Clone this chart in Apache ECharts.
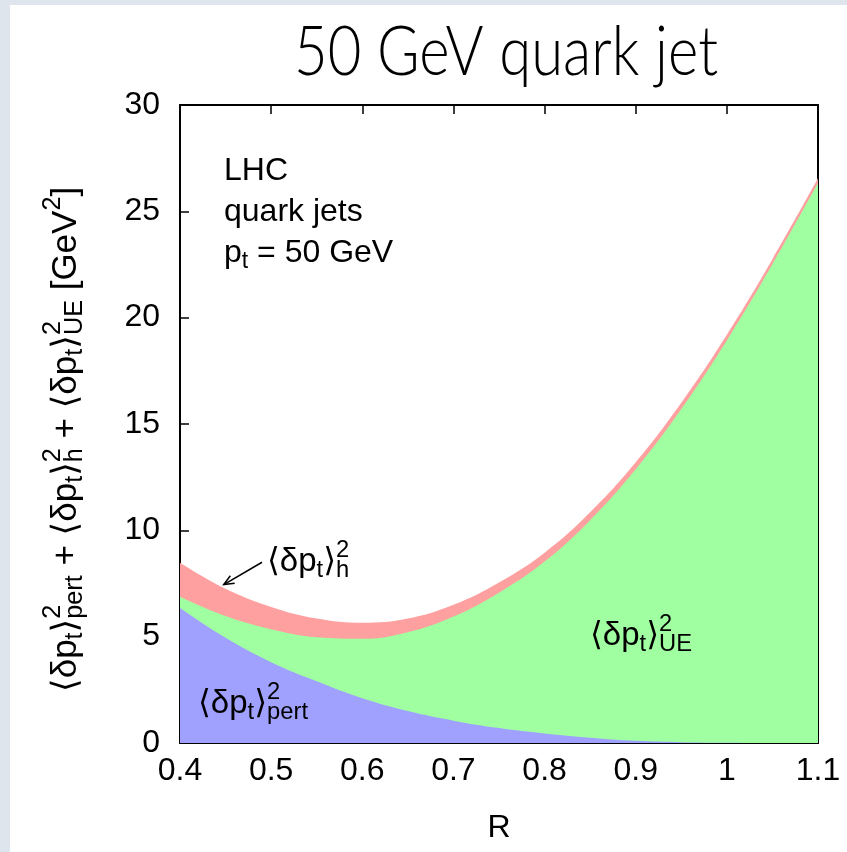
<!DOCTYPE html>
<html>
<head>
<meta charset="utf-8">
<script src="https://cdn.jsdelivr.net/npm/echarts@6/dist/echarts.min.js"></script>
<style>
  html, body { margin: 0; padding: 0; background: #dfe5ec; }
  #chart { width: 847px; height: 852px; }
</style>
</head>
<body>
<div id="chart"></div>
<script>
// jet radius R and the three contributions [GeV^2]
const radii      = [0.4, 0.45, 0.5, 0.55, 0.6, 0.65, 0.7, 0.75, 0.8, 0.85, 0.9, 0.95, 1.0, 1.05, 1.1]
const pertValues = [6.35, 4.95, 3.8, 2.9, 2.1, 1.5, 1.05, 0.7, 0.45, 0.25, 0.1, 0.04, 0.01, 0, 0]
const ueValues   = [0.53, 1.02, 1.55, 2.07, 2.8, 3.71, 4.9, 6.37, 8.08, 10.23, 12.77, 15.66, 18.92, 22.51, 26.33]
const hadrValues = [1.6, 1.28, 1.05, 0.88, 0.75, 0.64, 0.55, 0.48, 0.42, 0.37, 0.33, 0.3, 0.27, 0.24, 0.22]

const FAMILY = '"Liberation Sans", Arial, "DejaVu Sans", sans-serif'
const chart = echarts.init(document.getElementById("chart"))

// cumulative curves, drawn back to front so each area covers the one below
const lower = pertValues
const middle = pertValues.map((v, i) => v + ueValues[i])
const upper = middle.map((v, i) => v + hadrValues[i])

function area(name, vals, color) {
  return {
    name: name,
    type: "line",
    smooth: 0.4,
    symbol: "none",
    silent: true,
    data: radii.map((r, i) => [r, vals[i]]),
    lineStyle: { width: 0, color: color },
    areaStyle: { color: color, opacity: 1 }
  }
}

const axisLine = { show: true, onZero: false, lineStyle: { color: "#000", width: 2 } }
const axisTick = { inside: true, length: 9, lineStyle: { color: "#000", width: 1.5 } }

chart.setOption({
  animation: false,
  grid: { left: 180, right: 29, top: 105, bottom: 109, containLabel: false, outerBoundsMode: "none" },
  xAxis: [
    {
      type: "value", min: 0.4, max: 1.1, interval: 0.1,
      axisLine, axisTick, splitLine: { show: false },
      axisLabel: {
        margin: 12, fontSize: 32, color: "#000", fontFamily: FAMILY,
        formatter: v => String(+v.toFixed(1))
      }
    },
    {
      type: "value", position: "top", min: 0.4, max: 1.1, interval: 0.1,
      axisLine, axisTick, splitLine: { show: false }, axisLabel: { show: false }
    }
  ],
  yAxis: [
    {
      type: "value", min: 0, max: 30, interval: 5,
      axisLine, axisTick, splitLine: { show: false },
      axisLabel: { margin: 20, fontSize: 32, color: "#000", fontFamily: FAMILY }
    },
    {
      type: "value", position: "right", min: 0, max: 30, interval: 5,
      axisLine, axisTick, splitLine: { show: false }, axisLabel: { show: false }
    }
  ],
  series: [
    area("hadr", upper, "#ffa0a0"),
    area("ue", middle, "#a0ffa0"),
    area("pert", lower, "#a0a0ff")
  ]
})

// --- text with sub/superscripts, laid out piece by piece ---
const ctx = document.createElement("canvas").getContext("2d")
function fontOf(size) { return size + "px " + FAMILY }
function textWidth(s, font) { ctx.font = font; return ctx.measureText(s).width }

function mathGroup(pieces, size, x, y, rotation) {
  const small = size * 0.72
  const kids = []
  let cx = 0
  const put = (t, s, dy) => kids.push({
    type: "text", x: cx, y: dy, z: 100,
    style: { text: t, font: fontOf(s), fill: "#000", align: "left", verticalAlign: "middle" }
  })
  pieces.forEach(p => {
    if (typeof p === "string") {
      put(p, size, 0)
      cx += textWidth(p, fontOf(size))
    } else {
      let w = 0
      if (p.sup) { put(p.sup, small, -size * 0.36); w = Math.max(w, textWidth(p.sup, fontOf(small))) }
      if (p.sub) { put(p.sub, small, size * 0.26); w = Math.max(w, textWidth(p.sub, fontOf(small))) }
      cx += w
    }
  })
  return { type: "group", x: x, y: y, z: 100, rotation: rotation || 0, silent: true, children: kids }
}

function dpt(sub) {
  return ["\u27E8\u03B4p", { sub: "t" }, "\u27E9", { sup: "2", sub: sub }]
}

const titleFont = "300 68px Lato, " + FAMILY
const titleText = "50 GeV quark jet"
const titleScale = 424 / textWidth(titleText, titleFont)

const p0 = chart.convertToPixel({ gridIndex: 0 }, [0.49, 8.5])
const p1 = chart.convertToPixel({ gridIndex: 0 }, [0.448, 7.45])
const ang = Math.atan2(p0[1] - p1[1], p0[0] - p1[0])
const head = 11
const h1 = [p1[0] + head * Math.cos(ang + 0.4), p1[1] + head * Math.sin(ang + 0.4)]
const h2 = [p1[0] + head * Math.cos(ang - 0.4), p1[1] + head * Math.sin(ang - 0.4)]

chart.setOption({
  graphic: [
    { type: "rect", z: -10, silent: true, shape: { x: 10, y: 5, width: 837, height: 847 }, style: { fill: "#fff" } },
    {
      type: "text", x: 506, y: 53, z: 100, scaleX: titleScale, silent: true,
      style: { text: titleText, font: titleFont, fill: "#000", align: "center", verticalAlign: "middle" }
    },
    {
      type: "text", x: 499, y: 828, z: 100, silent: true,
      style: { text: "R", font: fontOf(32), fill: "#000", align: "center", verticalAlign: "middle" }
    },
    mathGroup(["LHC"], 32, 224, 171),
    mathGroup(["quark jets"], 32, 224, 212),
    mathGroup(["p", { sub: "t" }, " = 50 GeV"], 32, 224, 253),
    mathGroup(dpt("h"), 33, 267, 562),
    mathGroup(dpt("pert"), 33, 198, 704),
    mathGroup(dpt("UE"), 33, 590, 636),
    mathGroup(
      [].concat(dpt("pert"), [" + "], dpt("h"), [" + "], dpt("UE"), [" [GeV", { sup: "2" }, "]"]),
      35, 66, 692, Math.PI / 2
    ),
    { type: "polyline", z: 100, silent: true, shape: { points: [p0, p1] }, style: { stroke: "#000", lineWidth: 1.5 } },
    { type: "polyline", z: 100, silent: true, shape: { points: [h1, p1, h2] }, style: { stroke: "#000", lineWidth: 1.5, fill: null } }
  ]
})
</script>
</body>
</html>
